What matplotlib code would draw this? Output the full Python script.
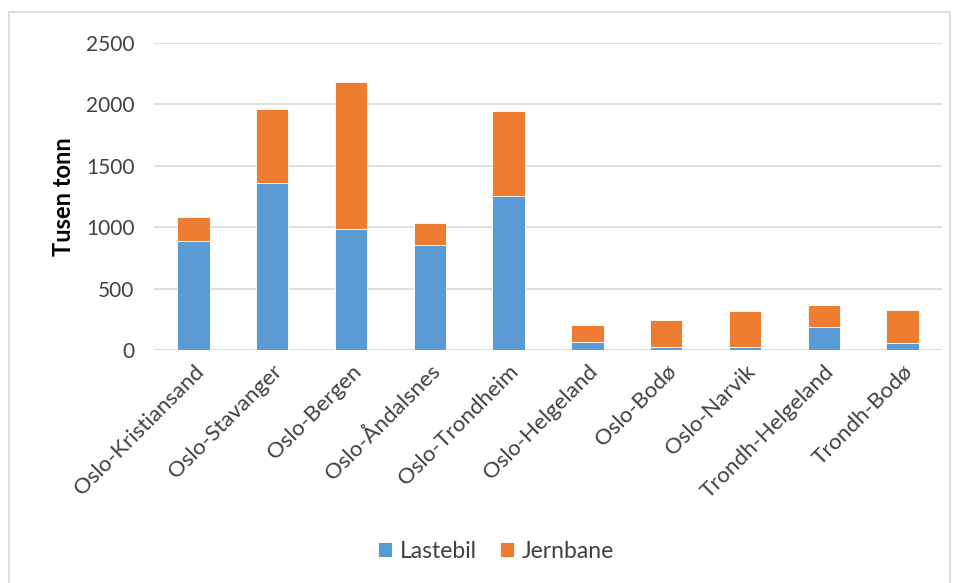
import matplotlib.pyplot as plt
from matplotlib.patches import Rectangle

plt.rcParams['font.family'] = ['Lato', 'DejaVu Sans']

routes = ['Oslo-Kristiansand', 'Oslo-Stavanger', 'Oslo-Bergen', 'Oslo-Åndalsnes',
          'Oslo-Trondheim', 'Oslo-Helgeland', 'Oslo-Bodø', 'Oslo-Narvik',
          'Trondh-Helgeland', 'Trondh-Bodø']
lastebil = [888, 1361, 986, 859, 1258, 65, 22, 22, 190, 54]
jernbane = [199, 603, 1199, 176, 687, 136, 220, 293, 177, 272]

blue = '#5B9BD5'
orange = '#ED7D31'
grid = '#D9D9D9'
text_col = '#404040'

fig = plt.figure(figsize=(9.57, 5.83), dpi=100)
fig.patches.append(Rectangle((9 / 957, -0.1), 941 / 957, 1.1 - 12 / 583,
                             transform=fig.transFigure, fill=False,
                             edgecolor='#D9D9D9', linewidth=1.2))

ax = fig.add_axes([154 / 957, 1 - 350 / 583, 788 / 957, 307 / 583])
x = range(len(routes))
ax.bar(x, lastebil, width=0.41, color=blue, edgecolor='white', linewidth=0.6,
       label='Lastebil', zorder=3)
ax.bar(x, jernbane, width=0.41, bottom=lastebil, color=orange, edgecolor='white',
       linewidth=0.6, label='Jernbane', zorder=3)

ax.set_xlim(-0.5, len(routes) - 0.5)
ax.set_ylim(0, 2500)
ax.set_yticks(range(0, 2501, 500))
ax.yaxis.grid(True, color=grid, linewidth=1.2, zorder=0)
for s in ax.spines.values():
    s.set_visible(False)
ax.tick_params(axis='y', length=0, labelsize=15, colors=text_col, pad=14)
ax.set_xticks(list(x))
ax.set_xticklabels(routes, rotation=45, ha='right', va='top',
                   rotation_mode='anchor')
ax.tick_params(axis='x', length=0, labelsize=16, colors=text_col, pad=8)
ax.set_ylabel('Tusen tonn', fontsize=17, fontweight='bold', color='black',
              labelpad=8)

fig.legend(loc='center', bbox_to_anchor=(496 / 957, 1 - 551 / 583), ncol=2,
           frameon=False, fontsize=16.5, handlelength=0.6, handleheight=0.6,
           handletextpad=0.35, columnspacing=1.0, labelcolor=text_col)

fig.savefig('out.png', dpi=100)
